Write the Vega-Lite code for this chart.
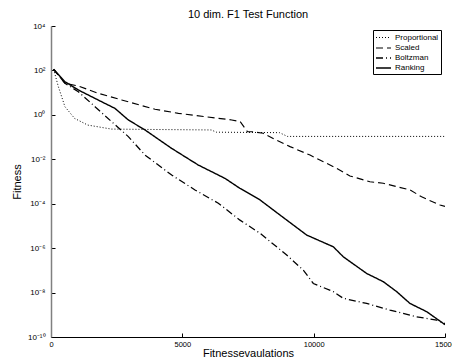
{
  "$schema": "https://vega.github.io/schema/vega-lite/v6.json",
  "autosize": "none",
  "width": 394,
  "height": 311,
  "padding": {"left": 51, "top": 26, "right": 7, "bottom": 25},
  "background": "white",
  "title": {"text": "10 dim. F1 Test Function", "fontSize": 11, "font": "Liberation Sans", "fontWeight": "normal", "color": "#000", "anchor": "middle", "baseline": "alphabetic", "offset": 8, "dy": 15},
  "data": {"values": [
    {"s": "Proportional", "x": 100, "y": 112},
    {"s": "Proportional", "x": 280, "y": 18.6},
    {"s": "Proportional", "x": 530, "y": 2.34},
    {"s": "Proportional", "x": 900, "y": 0.69},
    {"s": "Proportional", "x": 1400, "y": 0.347},
    {"s": "Proportional", "x": 2300, "y": 0.229},
    {"s": "Proportional", "x": 4000, "y": 0.219},
    {"s": "Proportional", "x": 6100, "y": 0.209},
    {"s": "Proportional", "x": 6300, "y": 0.166},
    {"s": "Proportional", "x": 8700, "y": 0.158},
    {"s": "Proportional", "x": 9000, "y": 0.107},
    {"s": "Proportional", "x": 15000, "y": 0.107},
    {"s": "Scaled", "x": 100, "y": 112},
    {"s": "Scaled", "x": 533, "y": 26.3},
    {"s": "Scaled", "x": 1040, "y": 20.0},
    {"s": "Scaled", "x": 1800, "y": 9.33},
    {"s": "Scaled", "x": 2690, "y": 4.68},
    {"s": "Scaled", "x": 3960, "y": 1.78},
    {"s": "Scaled", "x": 4850, "y": 1.17},
    {"s": "Scaled", "x": 5860, "y": 0.83},
    {"s": "Scaled", "x": 6880, "y": 0.59},
    {"s": "Scaled", "x": 7200, "y": 0.50},
    {"s": "Scaled", "x": 7480, "y": 0.174},
    {"s": "Scaled", "x": 7700, "y": 0.174},
    {"s": "Scaled", "x": 8080, "y": 0.148},
    {"s": "Scaled", "x": 8460, "y": 0.087},
    {"s": "Scaled", "x": 9100, "y": 0.0372},
    {"s": "Scaled", "x": 9860, "y": 0.0155},
    {"s": "Scaled", "x": 10370, "y": 0.00776},
    {"s": "Scaled", "x": 10880, "y": 0.00389},
    {"s": "Scaled", "x": 11380, "y": 0.00178},
    {"s": "Scaled", "x": 12140, "y": 0.000977},
    {"s": "Scaled", "x": 12650, "y": 0.000832},
    {"s": "Scaled", "x": 13670, "y": 0.000417},
    {"s": "Scaled", "x": 14110, "y": 0.000204},
    {"s": "Scaled", "x": 14810, "y": 0.000087},
    {"s": "Scaled", "x": 15000, "y": 0.000076},
    {"s": "Boltzman", "x": 100, "y": 112},
    {"s": "Boltzman", "x": 533, "y": 26.3},
    {"s": "Boltzman", "x": 1040, "y": 11.0},
    {"s": "Boltzman", "x": 1675, "y": 2.34},
    {"s": "Boltzman", "x": 2310, "y": 0.49},
    {"s": "Boltzman", "x": 2944, "y": 0.105},
    {"s": "Boltzman", "x": 3579, "y": 0.0155},
    {"s": "Boltzman", "x": 4594, "y": 0.00195},
    {"s": "Boltzman", "x": 5482, "y": 0.000417},
    {"s": "Boltzman", "x": 6370, "y": 0.000105},
    {"s": "Boltzman", "x": 7195, "y": 0.0000182},
    {"s": "Boltzman", "x": 7957, "y": 0.00000468},
    {"s": "Boltzman", "x": 8973, "y": 4.9e-7},
    {"s": "Boltzman", "x": 9606, "y": 1.02e-7},
    {"s": "Boltzman", "x": 9987, "y": 2.57e-8},
    {"s": "Boltzman", "x": 10748, "y": 1.10e-8},
    {"s": "Boltzman", "x": 11129, "y": 5.5e-9},
    {"s": "Boltzman", "x": 12018, "y": 3.24e-9},
    {"s": "Boltzman", "x": 12905, "y": 1.62e-9},
    {"s": "Boltzman", "x": 13921, "y": 8.1e-10},
    {"s": "Boltzman", "x": 14683, "y": 5.75e-10},
    {"s": "Boltzman", "x": 15000, "y": 3.98e-10},
    {"s": "Ranking", "x": 100, "y": 112},
    {"s": "Ranking", "x": 533, "y": 30.9},
    {"s": "Ranking", "x": 1040, "y": 13.2},
    {"s": "Ranking", "x": 1675, "y": 5.50},
    {"s": "Ranking", "x": 2436, "y": 1.95},
    {"s": "Ranking", "x": 2944, "y": 0.589},
    {"s": "Ranking", "x": 3579, "y": 0.209},
    {"s": "Ranking", "x": 4594, "y": 0.0309},
    {"s": "Ranking", "x": 5609, "y": 0.0055},
    {"s": "Ranking", "x": 6624, "y": 0.00138},
    {"s": "Ranking", "x": 7195, "y": 0.00049},
    {"s": "Ranking", "x": 7957, "y": 0.000148},
    {"s": "Ranking", "x": 8718, "y": 0.0000309},
    {"s": "Ranking", "x": 9733, "y": 0.00000389},
    {"s": "Ranking", "x": 10748, "y": 0.00000115},
    {"s": "Ranking", "x": 11129, "y": 4.07e-7},
    {"s": "Ranking", "x": 12018, "y": 7.24e-8},
    {"s": "Ranking", "x": 12651, "y": 3.09e-8},
    {"s": "Ranking", "x": 13160, "y": 1.10e-8},
    {"s": "Ranking", "x": 13667, "y": 3.24e-9},
    {"s": "Ranking", "x": 14302, "y": 1.38e-9},
    {"s": "Ranking", "x": 14936, "y": 4.07e-10},
    {"s": "Ranking", "x": 15000, "y": 3.55e-10}
  ]},
  "mark": {"type": "line", "clip": true},
  "encoding": {
    "x": {
      "field": "x", "type": "quantitative",
      "scale": {"domain": [0, 15000], "nice": false, "zero": false},
      "axis": {
        "title": "Fitnessevaulations", "values": [0, 5000, 10000, 15000], "format": "d",
        "grid": false, "domainColor": "#000", "domainWidth": 1.2, "tickColor": "#000", "tickSize": -4,
        "labelFontSize": 7.5, "labelFont": "Liberation Sans", "labelColor": "#000", "labelPadding": 7,
        "labelFlush": false, "labelOverlap": false,
        "titleFontSize": 11, "titleFont": "Liberation Sans", "titleFontWeight": "normal", "titleColor": "#000", "titlePadding": 0
      }
    },
    "y": {
      "field": "y", "type": "quantitative",
      "scale": {"type": "log", "domain": [1e-10, 10000], "nice": false},
      "axis": {
        "title": "Fitness", "values": [1e-10, 1e-8, 1e-6, 1e-4, 1e-2, 1, 100, 10000],
        "labelExpr": "datum.value > 5e3 ? '10⁴' : datum.value > 50 ? '10²' : datum.value > 0.5 ? '10⁰' : datum.value > 5e-3 ? '10⁻²' : datum.value > 5e-5 ? '10⁻⁴' : datum.value > 5e-7 ? '10⁻⁶' : datum.value > 5e-9 ? '10⁻⁸' : '10⁻¹⁰'",
        "grid": false, "domainColor": "#808080", "domainWidth": 1.5, "tickColor": "#000", "tickSize": -4,
        "labelFontSize": 8, "labelFont": "Liberation Sans", "labelColor": "#000", "labelPadding": 10,
        "labelOverlap": false,
        "titleFontSize": 11, "titleFont": "Liberation Sans", "titleFontWeight": "normal", "titleColor": "#000", "titlePadding": 5
      }
    },
    "strokeDash": {
      "field": "s", "type": "nominal",
      "scale": {"domain": ["Proportional", "Scaled", "Boltzman", "Ranking"], "range": [[1, 2], [7, 4], [7, 3, 1, 3], [1, 0]]},
      "legend": {
        "title": null, "orient": "top-right", "offset": 4,
        "strokeColor": "#000", "fillColor": "white", "padding": 2, "rowPadding": 0,
        "labelFontSize": 8, "labelFont": "Liberation Sans", "labelColor": "#000", "labelLimit": 200, "labelOffset": 8,
        "symbolType": "M-1,0H2", "symbolSize": 100, "symbolStrokeColor": "#000", "symbolStrokeWidth": 1.5, "symbolFillColor": "transparent"
      }
    },
    "strokeWidth": {
      "field": "s", "type": "nominal",
      "scale": {"domain": ["Proportional", "Scaled", "Boltzman", "Ranking"], "range": [1, 1.4, 1.3, 1.4]},
      "legend": null
    },
    "color": {"value": "#000"}
  },
  "config": {"view": {"stroke": null}}
}
